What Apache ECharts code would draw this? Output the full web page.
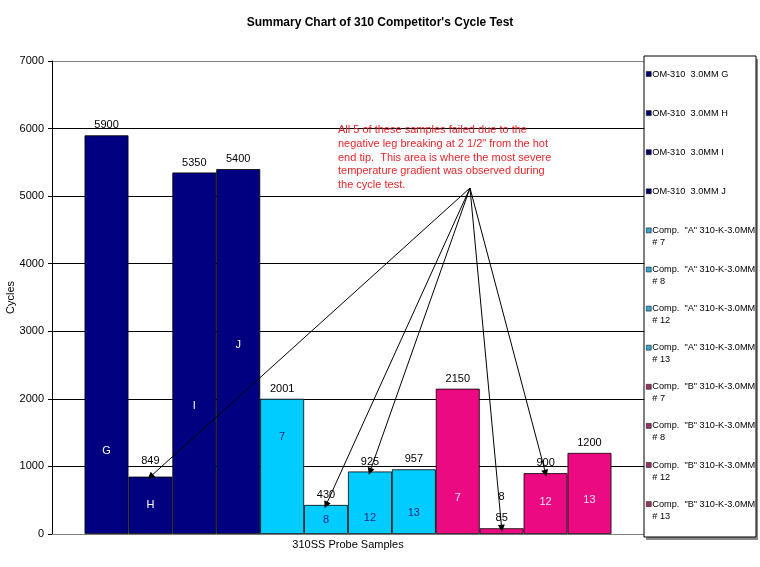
<!DOCTYPE html>
<html>
<head>
<meta charset="utf-8">
<script src="https://cdn.jsdelivr.net/npm/echarts@6/dist/echarts.min.js"></script>
<style>
html,body{margin:0;padding:0;background:#fff;}
#chart{width:760px;height:567px;}
</style>
</head>
<body>
<div id="chart"></div>
<script>
// ---- data ----
const categories = ['310SS Probe Samples'];
const seriesNames = [
  'OM-310  3.0MM G', 'OM-310  3.0MM H', 'OM-310  3.0MM I', 'OM-310  3.0MM J',
  'Comp.  "A" 310-K-3.0MM\n# 7', 'Comp.  "A" 310-K-3.0MM\n# 8',
  'Comp.  "A" 310-K-3.0MM\n# 12', 'Comp.  "A" 310-K-3.0MM\n# 13',
  'Comp.  "B" 310-K-3.0MM\n# 7', 'Comp.  "B" 310-K-3.0MM\n# 8',
  'Comp.  "B" 310-K-3.0MM\n# 12', 'Comp.  "B" 310-K-3.0MM\n# 13'
];
const cycleValues = [5900, 849, 5350, 5400, 2001, 430, 925, 957, 2150, 85, 900, 1200];
const barLetters = ['G', 'H', 'I', 'J', '7', '8', '12', '13', '7', '8', '12', '13'];
const failedSamples = [1, 5, 6, 9, 10];
const yTicks = { min: 0, max: 7000, interval: 1000 };
const titleText = "Summary Chart of 310 Competitor's Cycle Test";
const noteText = 'All 5 of these samples failed due to the\nnegative leg breaking at 2 1/2" from the hot\nend tip.  This area is where the most severe\ntemperature gradient was observed during\nthe cycle test.';

// ---- styles ----
const FONT = 'Liberation Sans, Arial, Helvetica, sans-serif';
const groupOf = i => (i < 4 ? 0 : i < 8 ? 1 : 2);
const barColors = ['#000080', '#00CCFF', '#EC0A82'];
const legendColors = ['#000066', '#33A6CC', '#993366'];
const letterColors = ['#FFFFFF', '#1A2A80', '#FFE0F4'];
const letterDist = [78, 24, 123, 184, 92, 9, 11, 16, 31, 32, 27, 29];
const valueLabelDist = [4, 10, 4, 4, 4, 4, 4, 4, 4, 4, 4, 4];

const gridLeft = 52, gridRight = 116, gridTop = 61, gridBottom = 33;

const series = seriesNames.map((name, i) => {
  const failed = failedSamples.indexOf(i) >= 0;
  const s = {
    type: 'bar',
    name: name,
    z: failed ? 3 : 2,
    data: [cycleValues[i]],
    barGap: '0%',
    barCategoryGap: '11%',
    itemStyle: { color: barColors[groupOf(i)], borderColor: '#000', borderWidth: 0.8 },
    label: {
      show: true,
      position: 'insideBottom',
      distance: letterDist[i],
      formatter: () => barLetters[i],
      color: (i === 9) ? '#000' : letterColors[groupOf(i)],
      fontFamily: FONT,
      fontSize: 11
    },
    emphasis: { disabled: true },
    markPoint: {
      silent: true,
      symbol: 'circle',
      symbolSize: 1,
      itemStyle: { color: 'transparent' },
      label: { show: true, position: 'top', distance: valueLabelDist[i], formatter: '{c}', color: '#000', fontFamily: FONT, fontSize: 11 },
      data: [{ type: 'max' }]
    }
  };
  if (failed) {
    s.markLine = {
      silent: true,
      symbol: ['none', 'triangle'],
      symbolSize: 7,
      label: { show: false },
      lineStyle: { color: '#000', width: 1, type: 'solid', opacity: 1 },
      itemStyle: { color: '#000' },
      emphasis: { disabled: true },
      data: [[{ x: 470, y: 188 }, { type: 'max', symbol: 'triangle', symbolSize: 7 }]]
    };
  }
  return s;
});

const squareTopIcon = 'path://M0,0L5,0L5,5L0,5Z M0,17L0,17';
const legends = seriesNames.map((name, i) => {
  const twoLine = name.indexOf('\n') >= 0;
  return {
    left: 646,
    top: 68 + 39.1 * i,
    orient: 'vertical',
    selectedMode: false,
    itemWidth: 5,
    itemHeight: twoLine ? 17 : 5,
    itemGap: 0,
    padding: 0,
    icon: twoLine ? squareTopIcon : 'rect',
    textStyle: { fontFamily: FONT, fontSize: 9.2, lineHeight: 12, color: '#000', padding: [0, 0, 0, -4] },
    data: [{ name: name, itemStyle: { color: legendColors[groupOf(i)], borderColor: '#000', borderWidth: 0.5 } }]
  };
});

const chart = echarts.init(document.getElementById('chart'), null, { renderer: 'canvas' });
chart.setOption({
  animation: false,
  backgroundColor: '#fff',
  title: {
    text: titleText,
    left: 'center',
    top: 12,
    textStyle: { fontFamily: FONT, fontSize: 12, fontWeight: 'bold', color: '#000' }
  },
  grid: { left: gridLeft, right: gridRight, top: gridTop, bottom: gridBottom, containLabel: false, outerBoundsMode: 'none' },
  xAxis: {
    type: 'category',
    data: categories,
    axisLine: { lineStyle: { color: '#808080', width: 1 } },
    axisTick: { show: false },
    axisLabel: { margin: 5, fontFamily: FONT, fontSize: 11, color: '#000' }
  },
  yAxis: {
    type: 'value',
    min: yTicks.min, max: yTicks.max, interval: yTicks.interval,
    name: 'Cycles',
    nameLocation: 'middle',
    nameGap: 36,
    nameMoveOverlap: false,
    nameTextStyle: { fontFamily: FONT, fontSize: 11, color: '#000' },
    axisLine: { show: true, lineStyle: { color: '#000', width: 1 } },
    axisTick: { show: true, length: 4, lineStyle: { color: '#000' } },
    axisLabel: { margin: 8, fontFamily: FONT, fontSize: 11, color: '#000', formatter: v => String(v) },
    splitLine: { show: true, lineStyle: { color: ['#808080', '#000', '#000', '#000', '#000', '#000', '#000', '#808080'], width: 1 } }
  },
  legend: legends,
  graphic: [
    { type: 'rect', z: 1, shape: { x: 646, y: 59, width: 112, height: 481 }, style: { fill: '#8a8a8a' } },
    { type: 'rect', z: 2, shape: { x: 644, y: 56, width: 112, height: 481 }, style: { fill: '#fff', stroke: '#000', lineWidth: 1 } },
    { type: 'text', z: 10, left: 338, top: 123,
      style: { text: noteText, fill: '#E4262A', font: '11px ' + FONT, lineHeight: 13.8 } }
  ],
  series: series
});
</script>
</body>
</html>
